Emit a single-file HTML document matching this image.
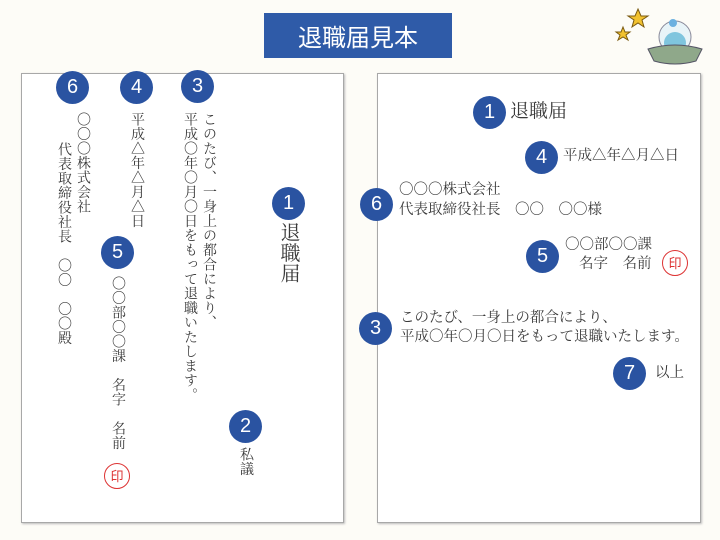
<!DOCTYPE html>
<html><head><meta charset="utf-8"><style>
body{margin:0;width:720px;height:540px;background:#fdfcf7;position:relative;overflow:hidden;font-family:"Liberation Serif","Noto Serif CJK SC","Noto Sans CJK JP",serif;color:#3a3a3a}
.a{position:absolute}
.p{position:absolute;background:#fff;border:1px solid #a8a8a8;box-shadow:1px 1px 2px #bbb}
.c{position:absolute;width:33px;height:33px;border-radius:50%;background:#2a53a1;color:#fff;font:20px/33px "Liberation Sans",sans-serif;text-align:center}
.v{position:absolute;writing-mode:vertical-rl;font-size:14px;line-height:14px;letter-spacing:0.5px;white-space:nowrap}
.h{position:absolute;font-size:14.5px;line-height:15px;white-space:nowrap}
.in{position:absolute;width:24px;height:24px;border:1.5px solid #d33;border-radius:50%;color:#d33;font-size:13px;line-height:24px;text-align:center;font-family:"Noto Sans CJK JP",sans-serif}
</style></head><body>
<div class="a" style="left:264px;top:13px;width:188px;height:45px;background:#2f5ba8;color:#fff;font:24px/45px 'Noto Sans CJK JP',sans-serif;text-align:center">退職届見本</div>
<svg class="a" style="left:610px;top:5px" width="100" height="70">
<polygon points="28,4 31,11 38,11 32,15 34,22 28,18 22,22 24,15 18,11 25,11" fill="#f2c230" stroke="#7a5a10" stroke-width="1"/>
<polygon points="13,22 15,27 20,27 16,30 18,35 13,32 8,35 10,30 6,27 11,27" fill="#f2c230" stroke="#7a5a10" stroke-width="1"/>
<ellipse cx="65" cy="32" rx="16" ry="16" fill="#e8f4f8" stroke="#889" stroke-width="1"/>
<circle cx="63" cy="18" r="4" fill="#6ab0e0"/>
<ellipse cx="65" cy="38" rx="11" ry="11" fill="#7fc5de"/>
<path d="M38,44 Q65,36 92,44 L86,56 Q65,62 44,56 Z" fill="#8fa88a" stroke="#556" stroke-width="1"/>
</svg>

<div class="p" style="left:21px;top:73px;width:321px;height:448px"></div>
<div class="p" style="left:377px;top:73px;width:322px;height:448px"></div>

<!-- left -->
<div class="c" style="left:56px;top:71px">6</div>
<div class="c" style="left:120px;top:71px">4</div>
<div class="c" style="left:181px;top:70px">3</div>
<div class="c" style="left:272px;top:187px">1</div>
<div class="c" style="left:101px;top:236px">5</div>
<div class="c" style="left:229px;top:410px">2</div>
<div class="v" style="left:75px;top:112px">〇〇〇株式会社</div>
<div class="v" style="left:56px;top:142px">代表取締役社長　〇〇　〇〇殿</div>
<div class="v" style="left:129px;top:112px">平成△年△月△日</div>
<div class="v" style="left:201px;top:112px">このたび、一身上の都合により、</div>
<div class="v" style="left:182px;top:112px">平成〇年〇月〇日をもって退職いたします。</div>
<div class="v" style="left:278px;top:222px;font-size:20px;line-height:20px">退職届</div>
<div class="v" style="left:110px;top:276px">〇〇部〇〇課　名字　名前</div>
<div class="v" style="left:238px;top:447px">私議</div>
<div class="in" style="left:104px;top:463px">印</div>

<!-- right -->
<div class="c" style="left:473px;top:96px">1</div>
<div class="h" style="left:510px;top:102px;font-size:19px;line-height:19px">退職届</div>
<div class="c" style="left:525px;top:141px">4</div>
<div class="h" style="left:563px;top:149px">平成△年△月△日</div>
<div class="c" style="left:360px;top:188px">6</div>
<div class="h" style="left:399px;top:183px">〇〇〇株式会社</div>
<div class="h" style="left:399px;top:203px">代表取締役社長　〇〇　〇〇様</div>
<div class="c" style="left:526px;top:240px">5</div>
<div class="h" style="left:565px;top:238px">〇〇部〇〇課</div>
<div class="h" style="left:579px;top:257px">名字　名前</div>
<div class="in" style="left:662px;top:250px">印</div>
<div class="c" style="left:359px;top:312px">3</div>
<div class="h" style="left:400px;top:311px">このたび、一身上の都合により、</div>
<div class="h" style="left:400px;top:330px">平成〇年〇月〇日をもって退職いたします。</div>
<div class="c" style="left:613px;top:357px">7</div>
<div class="h" style="left:655px;top:366px">以上</div>
</body></html>
